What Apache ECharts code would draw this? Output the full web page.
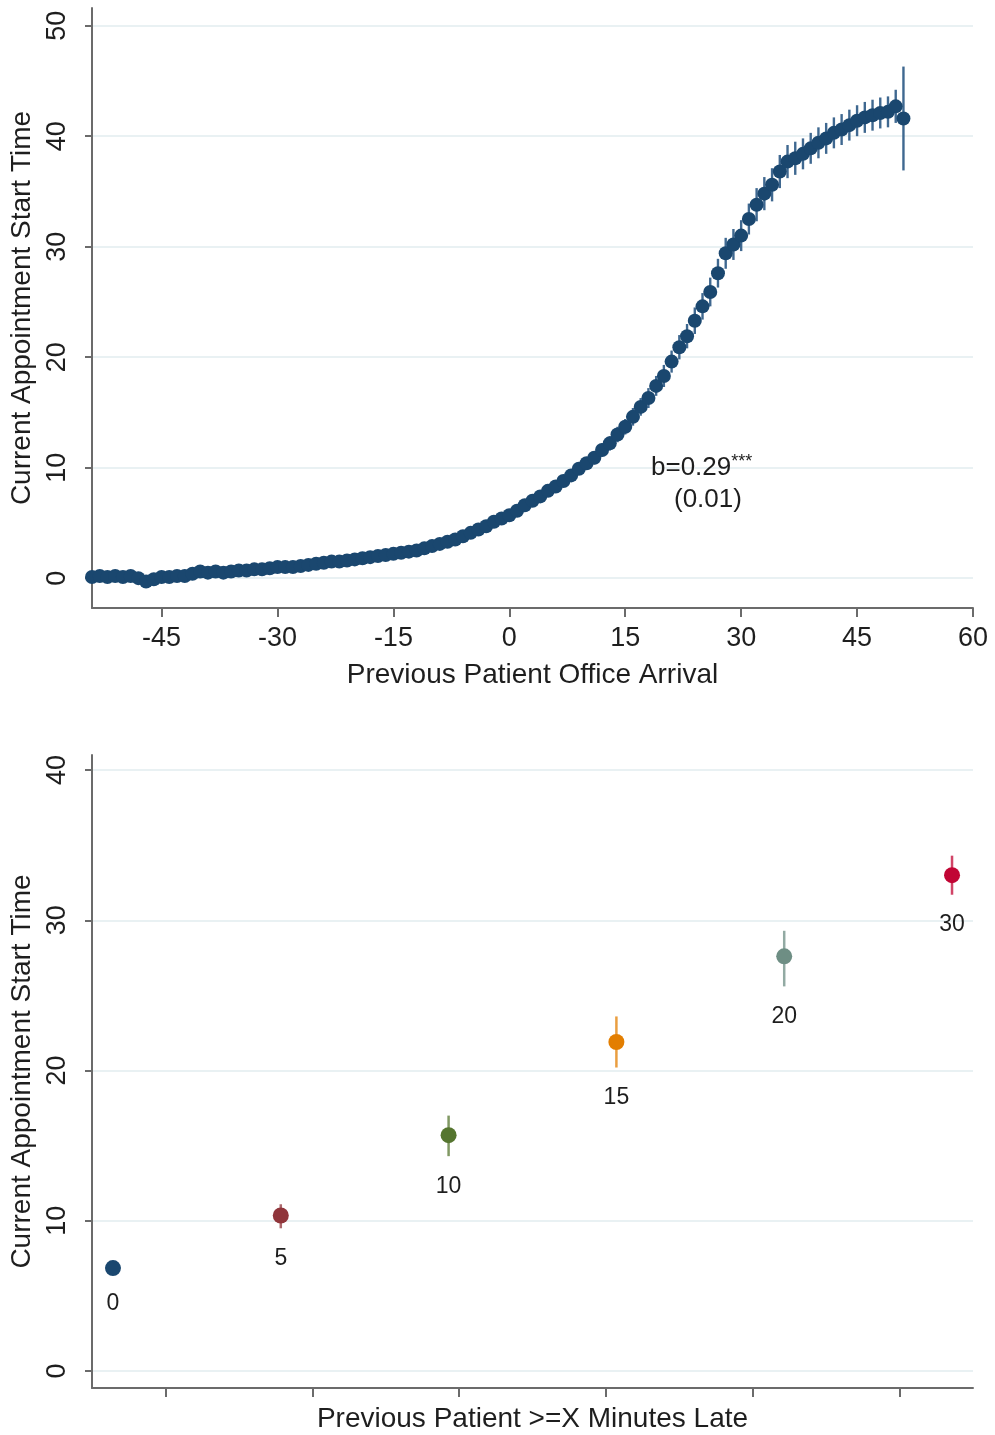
<!DOCTYPE html>
<html>
<head>
<meta charset="utf-8">
<title>Appointment start time vs previous patient arrival</title>
<script src="https://cdn.jsdelivr.net/npm/echarts@6/dist/echarts.min.js"></script>
<style>
  html, body { margin: 0; padding: 0; background: #ffffff; }
  #chart { width: 995px; height: 1435px; }
</style>
</head>
<body>
<div id="chart"></div>
<script>
// Panel A: minutes of previous patient's office arrival relative to schedule
const arrivalMinutes = [
  -54, -53, -52, -51, -50, -49, -48, -47, -46, -45, -44, -43, -42, -41, -40,
  -39, -38, -37, -36, -35, -34, -33, -32, -31, -30, -29, -28, -27, -26, -25,
  -24, -23, -22, -21, -20, -19, -18, -17, -16, -15, -14, -13, -12, -11, -10,
  -9, -8, -7, -6, -5, -4, -3, -2, -1, 0, 1, 2, 3, 4, 5,
  6, 7, 8, 9, 10, 11, 12, 13, 14, 15, 16, 17, 18, 19, 20,
  21, 22, 23, 24, 25, 26, 27, 28, 29, 30, 31, 32, 33, 34, 35,
  36, 37, 38, 39, 40, 41, 42, 43, 44, 45, 46, 47, 48, 49, 50, 51
];
// mean current appointment start time (minutes)
const startTime = [
  0.1, 0.2, 0.1, 0.2, 0.1, 0.2, 0.0, -0.3, -0.1, 0.1, 0.1, 0.2, 0.2, 0.4, 0.6,
  0.5, 0.6, 0.5, 0.6, 0.7, 0.7, 0.8, 0.8, 0.9, 1.0, 1.0, 1.0, 1.1, 1.2, 1.3,
  1.4, 1.5, 1.5, 1.6, 1.7, 1.8, 1.9, 2.0, 2.1, 2.2, 2.3, 2.4, 2.5, 2.7, 2.9,
  3.1, 3.3, 3.5, 3.8, 4.1, 4.4, 4.7, 5.1, 5.4, 5.7, 6.1, 6.6, 7.0, 7.4, 7.9,
  8.3, 8.8, 9.3, 9.9, 10.4, 10.9, 11.6, 12.2, 13.0, 13.7, 14.6, 15.5, 16.3, 17.4, 18.3,
  19.6, 20.9, 21.9, 23.3, 24.6, 25.9, 27.6, 29.4, 30.2, 31.0, 32.5, 33.8, 34.8, 35.6, 36.8,
  37.7, 38.0, 38.4, 38.9, 39.4, 39.8, 40.3, 40.6, 41.0, 41.4, 41.7, 41.9, 42.1, 42.2, 42.7, 41.6
];
// 95% confidence half-width for each mean
const startTimeCI = [
  0.3, 0.3, 0.3, 0.3, 0.3, 0.3, 0.3, 0.3, 0.3, 0.3, 0.3, 0.3, 0.3, 0.3, 0.3,
  0.3, 0.3, 0.3, 0.3, 0.3, 0.3, 0.3, 0.3, 0.3, 0.3, 0.3, 0.3, 0.3, 0.3, 0.3,
  0.3, 0.3, 0.3, 0.3, 0.35, 0.35, 0.35, 0.35, 0.35, 0.35, 0.35, 0.35, 0.35, 0.35, 0.35,
  0.35, 0.35, 0.35, 0.35, 0.4, 0.4, 0.4, 0.4, 0.4, 0.4, 0.45, 0.45, 0.45, 0.45, 0.5,
  0.5, 0.5, 0.5, 0.55, 0.55, 0.6, 0.6, 0.65, 0.7, 0.7, 0.8, 0.8, 0.9, 0.9, 1.0,
  1.0, 1.1, 1.1, 1.2, 1.2, 1.3, 1.3, 1.4, 1.4, 1.4, 1.4, 1.5, 1.5, 1.5, 1.5,
  1.5, 1.5, 1.4, 1.4, 1.4, 1.4, 1.4, 1.4, 1.4, 1.4, 1.4, 1.4, 1.4, 1.4, 1.5, 4.7
];
const arrivalTicks = [-45, -30, -15, 0, 15, 30, 45, 60];
const startTicksA = [0, 10, 20, 30, 40, 50];

// Panel B: previous patient at least X minutes late
const lateThreshold = ['0', '5', '10', '15', '20', '30'];
const lateStart = [6.85, 10.35, 15.7, 21.9, 27.6, 33.0];
const lateLow = [6.5, 9.5, 14.3, 20.2, 25.6, 31.7];
const lateHigh = [7.2, 11.1, 17.0, 23.6, 29.3, 34.3];
const lateColors = ['#1a476f', '#90353b', '#55752f', '#e37e00', '#6e8e84', '#c10534'];
const startTicksB = [0, 10, 20, 30, 40];
const bottomTickSlots = [0.5, 1.5, 2.5, 3.5, 4.5, 5.5];

const FONT = '"Liberation Sans", Arial, Helvetica, sans-serif';
const AXIS_GRAY = '#6b6b6b';
const GRID_TINT = '#e9f1f3';
const NAVY = '#1a476f';
const INK = '#1e1e1e';

const chart = echarts.init(document.getElementById('chart'), null, { renderer: 'canvas' });

function gridLines(values) {
  return {
    silent: true,
    symbol: 'none',
    z: 0,
    label: { show: false },
    lineStyle: { color: GRID_TINT, width: 2, type: 'solid' },
    data: values.map(v => ({ yAxis: v }))
  };
}

const yAxisCommon = {
  type: 'value',
  nameLocation: 'middle',
  nameRotate: 90,
  name: 'Current Appointment Start Time',
  nameTextStyle: { fontSize: 28, color: INK, fontFamily: FONT },
  axisLine: { show: true, onZero: false, lineStyle: { color: AXIS_GRAY, width: 2 } },
  axisTick: { show: true, length: 7, lineStyle: { color: AXIS_GRAY, width: 2 } },
  splitLine: { show: false },
};

const option = {
  animation: false,
  backgroundColor: '#ffffff',
  textStyle: { fontFamily: FONT },
  grid: [
    { left: 92, right: 22, top: 8, height: 600 },
    { left: 92, right: 22, top: 755, height: 633 }
  ],
  xAxis: [
    {
      gridIndex: 0, type: 'value', min: -54, max: 60, position: 'bottom',
      name: 'Previous Patient Office Arrival',
      nameLocation: 'middle', nameGap: 53,
      nameTextStyle: { fontSize: 28, color: INK, fontFamily: FONT },
      axisLine: { show: true, onZero: false, lineStyle: { color: AXIS_GRAY, width: 2 } },
      axisTick: { show: true, length: 9, customValues: arrivalTicks, lineStyle: { color: AXIS_GRAY, width: 2 } },
      axisLabel: { customValues: arrivalTicks, fontSize: 27, color: INK, margin: 17, fontFamily: FONT },
      splitLine: { show: false }
    },
    {
      gridIndex: 1, type: 'value', min: -0.125, max: 5.125, position: 'top',
      show: false
    },
    {
      gridIndex: 1, type: 'value', min: 0, max: 6, position: 'bottom',
      name: 'Previous Patient >=X Minutes Late',
      nameLocation: 'middle', nameGap: 17,
      nameTextStyle: { fontSize: 28, color: INK, fontFamily: FONT },
      axisLine: { show: true, onZero: false, lineStyle: { color: AXIS_GRAY, width: 2 } },
      axisTick: { show: true, length: 9, customValues: bottomTickSlots, lineStyle: { color: AXIS_GRAY, width: 2 } },
      axisLabel: { show: false },
      splitLine: { show: false }
    }
  ],
  yAxis: [
    Object.assign({}, yAxisCommon, {
      gridIndex: 0, min: -2.7, max: 51.6, nameGap: 56, position: 'left',
      axisTick: Object.assign({}, yAxisCommon.axisTick, { customValues: startTicksA }),
      axisLabel: { customValues: startTicksA, rotate: 90, fontSize: 27, color: INK, margin: 21, fontFamily: FONT }
    }),
    Object.assign({}, yAxisCommon, {
      gridIndex: 1, min: -1.13, max: 41.0, nameGap: 56, position: 'left',
      axisTick: Object.assign({}, yAxisCommon.axisTick, { customValues: startTicksB }),
      axisLabel: { customValues: startTicksB, rotate: 90, fontSize: 27, color: INK, margin: 21, fontFamily: FONT }
    })
  ],
  graphic: [
    {
      type: 'text', left: 651, top: 453, z: 100,
      style: {
        text: '{b|b=0.29}{s|***}',
        rich: {
          b: { fontSize: 26, fill: INK, fontFamily: FONT, lineHeight: 30 },
          s: { fontSize: 18, fill: INK, fontFamily: FONT, verticalAlign: 'top', lineHeight: 30 }
        }
      }
    },
    {
      type: 'text', left: 674, top: 487, z: 100,
      style: { text: '(0.01)', fontSize: 26, fill: INK, fontFamily: FONT }
    }
  ],
  series: [
    // grid lines, panel A
    {
      type: 'line', xAxisIndex: 0, yAxisIndex: 0, data: [], silent: true, z: 0,
      markLine: gridLines(startTicksA)
    },
    // confidence spikes, panel A
    {
      type: 'custom', xAxisIndex: 0, yAxisIndex: 0, z: 2,
      data: arrivalMinutes.map((m, i) => [m, startTime[i] - startTimeCI[i], startTime[i] + startTimeCI[i]]),
      encode: { x: 0, y: [1, 2] },
      renderItem: function (params, api) {
        const a = api.coord([api.value(0), api.value(1)]);
        const b = api.coord([api.value(0), api.value(2)]);
        return {
          type: 'line',
          shape: { x1: a[0], y1: a[1], x2: b[0], y2: b[1] },
          style: { stroke: '#3f6890', lineWidth: 2.4 }
        };
      }
    },
    // means, panel A
    {
      type: 'scatter', xAxisIndex: 0, yAxisIndex: 0, z: 3,
      symbol: 'circle', symbolSize: 14,
      itemStyle: { color: NAVY, opacity: 1 },
      data: arrivalMinutes.map((m, i) => [m, startTime[i]])
    },
    // grid lines, panel B
    {
      type: 'line', xAxisIndex: 1, yAxisIndex: 1, data: [], silent: true, z: 0,
      markLine: gridLines(startTicksB)
    },
    // confidence spikes and threshold labels, panel B
    {
      type: 'custom', xAxisIndex: 1, yAxisIndex: 1, z: 2,
      data: lateThreshold.map((t, i) => [i, lateLow[i], lateHigh[i]]),
      encode: { x: 0, y: [1, 2] },
      renderItem: function (params, api) {
        const i = params.dataIndex;
        const a = api.coord([api.value(0), api.value(1)]);
        const b = api.coord([api.value(0), api.value(2)]);
        return {
          type: 'group',
          children: [
            {
              type: 'line',
              shape: { x1: a[0], y1: a[1], x2: b[0], y2: b[1] },
              style: { stroke: lateColors[i], lineWidth: 2.5, opacity: 0.75 }
            },
            {
              type: 'text',
              style: {
                x: a[0], y: a[1] + 30,
                text: lateThreshold[i],
                fontSize: 23, fill: INK, fontFamily: FONT,
                align: 'center', verticalAlign: 'middle'
              }
            }
          ]
        };
      }
    },
    // means, panel B
    {
      type: 'scatter', xAxisIndex: 1, yAxisIndex: 1, z: 3,
      symbol: 'circle', symbolSize: 16,
      data: lateThreshold.map((t, i) => ({
        value: [i, lateStart[i]],
        itemStyle: { color: lateColors[i], opacity: 1 }
      }))
    }
  ]
};

chart.setOption(option);
</script>
</body>
</html>
